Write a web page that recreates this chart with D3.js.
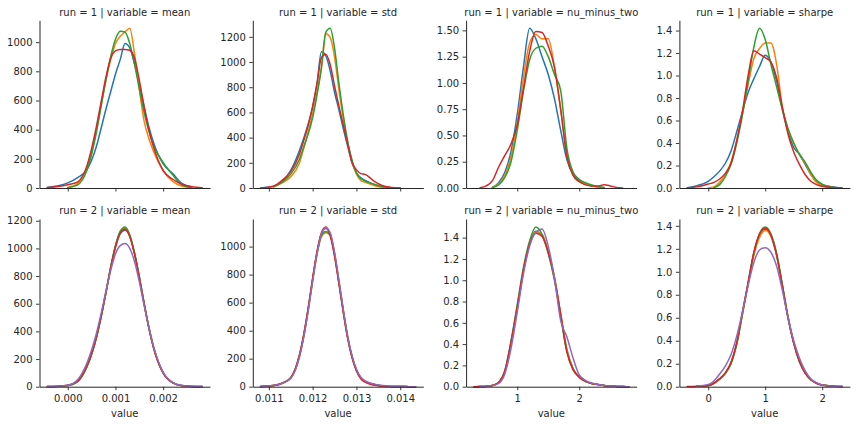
<!DOCTYPE html>
<html>
<head>
<meta charset="utf-8">
<script src="https://cdn.jsdelivr.net/npm/d3@7"></script>
<style>
  html, body { margin: 0; padding: 0; background: #ffffff; }
  text { font-family: "DejaVu Sans", sans-serif; }
</style>
</head>
<body>
<svg id="chart" width="856" height="424"></svg>
<script>
// ---------------- data ----------------
const runs = [1, 2];
const variables = ["mean", "std", "nu_minus_two", "sharpe"];
const seriesColors = ["#1f77b4", "#ff7f0e", "#2ca02c", "#d62728", "#9467bd"];

// evaluation grids (x values of the density curves) per variable
const gridMean = [-0.00043,-0.0002,0,0.0002,0.0004,0.0005,0.0006,0.0007,0.0008,0.0009,0.001,0.0011,0.0012,0.0013,0.0014,0.0015,0.0016,0.0017,0.0018,0.002,0.0022,0.0024,0.0026,0.00282];
const gridStd = [0.01081,0.0111,0.0113,0.0115,0.0117,0.0118,0.0119,0.012,0.0121,0.0122,0.0123,0.0124,0.0125,0.0126,0.0127,0.0128,0.0129,0.013,0.0131,0.0132,0.0134,0.0136,0.0138,0.014,0.0142,0.01435];
const gridNu = [0.3,0.4,0.5,0.6,0.7,0.8,0.9,1.0,1.1,1.2,1.3,1.4,1.5,1.6,1.7,1.8,1.9,2.0,2.1,2.2,2.3,2.4,2.5,2.6,2.7,2.8];
const gridSharpe = [-0.37,-0.2,0,0.1,0.2,0.3,0.4,0.5,0.6,0.7,0.8,0.9,1.0,1.1,1.2,1.3,1.4,1.5,1.6,1.7,1.8,1.9,2.0,2.2,2.35];

// run 1 densities (series order: blue, orange, green, red)
const run1Mean = [
  [3,15,35,70,125,190,285,410,540,660,780,880,990,960,850,710,560,420,310,165,100,30,8,null],
  [null,null,3,30,140,250,400,570,740,880,990,1040,1070,1095,920,680,460,340,250,120,45,12,2,null],
  [null,null,2,20,120,230,380,560,740,900,1020,1075,1070,990,850,680,520,390,290,175,90,20,2,null],
  [3,10,22,40,150,270,420,590,760,890,940,950,950,945,890,740,560,400,280,120,60,25,8,2]
];
const run1Std = [
  [1,12,50,140,300,400,510,640,830,1082,1050,930,760,620,470,330,200,120,80,60,28,8,2,0,null,null],
  [null,8,40,90,200,320,450,590,760,960,1225,1195,1040,780,550,360,210,110,60,45,20,5,1,null,null,null],
  [null,10,45,110,230,330,430,560,740,950,1235,1268,1110,830,580,370,220,120,75,55,30,10,2,null,null,null],
  [1,15,60,130,270,380,500,650,830,1035,1062,980,810,650,500,350,200,146,114,108,55,18,5,0,null,null]
];
const run1Nu = [
  [null,null,null,0.005,0.05,0.15,0.35,0.70,1.15,1.52,1.42,1.25,1.08,0.85,0.55,0.27,0.13,0.07,0.04,0.02,0.01,0.003,null,null,null,null],
  [null,null,null,0.005,0.04,0.12,0.30,0.62,1.05,1.38,1.46,1.42,1.42,1.15,0.75,0.32,0.15,0.08,0.04,0.02,0.01,0.003,null,null,null,null],
  [null,null,null,0.005,0.03,0.10,0.25,0.55,0.92,1.22,1.33,1.35,1.25,1.08,0.93,0.38,0.15,0.08,0.05,0.03,0.015,0.005,null,null,null,null],
  [null,0.002,0.02,0.07,0.20,0.31,0.42,0.60,0.95,1.30,1.49,1.48,1.35,1.15,0.75,0.30,0.12,0.06,0.03,0.02,0.02,0.03,0.02,0.005,0,null]
];
const run1Sharpe = [
  [0.002,0.02,0.06,0.10,0.15,0.22,0.33,0.50,0.68,0.85,0.97,1.08,1.18,1.12,0.95,0.70,0.50,0.36,0.30,0.21,0.12,0.06,0.03,0.008,0.001],
  [null,null,0.001,0.01,0.05,0.12,0.23,0.42,0.66,0.92,1.15,1.24,1.29,1.29,1.10,0.72,0.52,0.40,0.30,0.22,0.12,0.05,0.02,0.003,null],
  [null,null,null,0.003,0.03,0.10,0.21,0.40,0.65,0.95,1.25,1.42,1.32,1.10,0.90,0.70,0.53,0.40,0.30,0.23,0.14,0.07,0.035,0.005,null],
  [0.001,0.01,0.035,0.05,0.08,0.13,0.22,0.42,0.68,1.0,1.22,1.19,1.16,1.12,0.98,0.72,0.48,0.32,0.21,0.12,0.06,0.03,0.015,0.004,0.001]
];

// run 2 densities (series order: blue, orange, green, red, purple)
const run2Mean = [
  [1,3,8,35,142,232,352,505,678,858,1008,1105,1132,1090,965,795,608,432,285,102,30,8,2,1],
  [1,3,8,36,145,236,356,508,680,862,1015,1115,1145,1092,963,790,602,428,282,100,29,7,2,1],
  [null,3,8,35,143,234,355,507,681,866,1022,1125,1155,1098,966,792,603,427,281,99,28,7,2,1],
  [2,4,10,38,150,240,360,510,680,860,1010,1110,1138,1085,960,790,600,425,280,98,28,7,2,0],
  [1,3,10,48,170,265,385,530,690,840,960,1020,1035,1000,905,760,590,430,290,105,30,9,3,1]
];
const run2Std = [
  [1,8,24,62,222,370,555,765,958,1092,1130,1090,945,745,538,350,212,118,62,36,15,5,2,1,0.5,0],
  [1,7,23,60,215,362,548,755,945,1070,1098,1085,950,752,545,356,216,120,63,37,15,5,2,1,0.5,0],
  [1,8,25,64,226,374,560,770,955,1080,1108,1080,945,748,540,352,214,119,62,36,15,5,2,1,0.5,0],
  [1,8,25,65,230,380,566,775,966,1098,1140,1078,931,733,528,343,206,113,57,32,12,4,2,1,0.5,0],
  [1,8,24,60,215,360,545,755,950,1090,1135,1100,960,760,550,360,220,125,68,42,20,8,3,1,0.5,0]
];
const run2Nu = [
  [0,0.002,0.005,0.011,0.04,0.14,0.41,0.74,1.09,1.35,1.46,1.42,1.27,1.02,0.68,0.35,0.17,0.09,0.05,0.03,0.02,0.012,0.006,0.003,0.001,0],
  [0,0.002,0.005,0.011,0.04,0.14,0.40,0.73,1.08,1.34,1.45,1.43,1.27,1.03,0.69,0.35,0.17,0.09,0.05,0.03,0.02,0.012,0.006,0.003,0.001,0],
  [0,0.002,0.005,0.012,0.04,0.15,0.43,0.77,1.12,1.37,1.50,1.43,1.25,1.00,0.66,0.33,0.16,0.09,0.05,0.03,0.02,0.012,0.006,0.003,0.001,0],
  [0,0.002,0.005,0.012,0.04,0.15,0.42,0.75,1.10,1.34,1.44,1.41,1.26,1.02,0.68,0.33,0.16,0.09,0.05,0.03,0.02,0.012,0.006,0.003,0.001,0],
  [null,0.002,0.005,0.01,0.03,0.12,0.36,0.70,1.06,1.32,1.45,1.48,1.32,1.02,0.62,0.47,0.27,0.11,0.06,0.035,0.02,0.012,0.006,0.003,0.001,0]
];
const run2Sharpe = [
  [null,0.003,0.01,0.03,0.068,0.12,0.21,0.38,0.64,0.90,1.16,1.32,1.37,1.31,1.14,0.88,0.60,0.38,0.22,0.12,0.06,0.03,0.015,0.005,0.001],
  [null,0.003,0.01,0.03,0.066,0.118,0.205,0.37,0.63,0.89,1.14,1.30,1.36,1.31,1.15,0.88,0.61,0.39,0.23,0.12,0.06,0.03,0.015,0.005,0.001],
  [null,0.003,0.01,0.03,0.065,0.115,0.20,0.37,0.63,0.90,1.16,1.33,1.39,1.33,1.16,0.89,0.61,0.38,0.22,0.12,0.06,0.03,0.015,0.005,0.002],
  [0.001,0.003,0.01,0.03,0.07,0.12,0.21,0.38,0.65,0.91,1.17,1.33,1.38,1.32,1.15,0.88,0.60,0.38,0.22,0.12,0.06,0.03,0.015,0.005,0.001],
  [null,0.005,0.02,0.05,0.11,0.18,0.28,0.44,0.65,0.88,1.08,1.19,1.21,1.17,1.05,0.84,0.60,0.40,0.25,0.14,0.07,0.035,0.015,0.004,0.001]
];

// tick values
const xTicksMean = [0, 0.001, 0.002];
const xTicksStd = [0.011, 0.012, 0.013, 0.014];
const xTicksNu = [1, 2];
const xTicksSharpe = [0, 1, 2];
const yTicksRun1 = [
  [0,200,400,600,800,1000],
  [0,200,400,600,800,1000,1200],
  [0,0.25,0.5,0.75,1.0,1.25,1.5],
  [0,0.2,0.4,0.6,0.8,1.0,1.2,1.4]
];
const yTicksRun2 = [
  [0,200,400,600,800,1000,1200],
  [0,200,400,600,800,1000],
  [0,0.2,0.4,0.6,0.8,1.0,1.2,1.4],
  [0,0.2,0.4,0.6,0.8,1.0,1.2,1.4]
];
const xFormats = [d3.format(".3f"), d3.format(".3f"), d3.format("d"), d3.format("d")];
const yFormatsRun1 = [d3.format("d"), d3.format("d"), d3.format(".2f"), d3.format(".1f")];
const yFormatsRun2 = [d3.format("d"), d3.format("d"), d3.format(".1f"), d3.format(".1f")];

// ---------------- build table ----------------
const grids = [gridMean, gridStd, gridNu, gridSharpe];
const xTicks = [xTicksMean, xTicksStd, xTicksNu, xTicksSharpe];
const panelSeries = [
  [run1Mean, run1Std, run1Nu, run1Sharpe],
  [run2Mean, run2Std, run2Nu, run2Sharpe]
];
const yTicks = [yTicksRun1, yTicksRun2];
const yFormats = [yFormatsRun1, yFormatsRun2];

// ---------------- layout ----------------
const colLeft = [39.5, 252.8, 466.1, 679.4];
const panelW = 170.5;
const rowTop = [20.3, 219.0];
const panelH = 167.7;
const textColor = "#262626";

const svg = d3.select("#chart");
svg.append("rect").attr("width", 856).attr("height", 424).attr("fill", "#ffffff");

// shared x scales per column (from both rows)
const xScales = grids.map((grid, c) => {
  let lo = Infinity, hi = -Infinity;
  panelSeries.forEach(row => row[c].forEach(s => s.forEach((v, i) => {
    if (v !== null) { lo = Math.min(lo, grid[i]); hi = Math.max(hi, grid[i]); }
  })));
  const pad = (hi - lo) * 0.05;
  return d3.scaleLinear().domain([lo - pad, hi + pad]).range([0, panelW]);
});

runs.forEach((run, r) => {
  variables.forEach((variable, c) => {
    const g = svg.append("g").attr("transform", `translate(${colLeft[c]},${rowTop[r]})`);
    const series = panelSeries[r][c];
    const grid = grids[c];
    const ymax = d3.max(series, s => d3.max(s.filter(v => v !== null)));
    const x = xScales[c];
    const y = d3.scaleLinear().domain([0, ymax * 1.05]).range([panelH, 0]);

    // curves
    const line = d3.line()
      .defined(d => d.v !== null)
      .x(d => x(d.x))
      .y(d => y(d.v))
      .curve(d3.curveMonotoneX);
    series.forEach((s, k) => {
      const pts = s.map((v, i) => ({ x: grid[i], v: v }));
      g.append("path")
        .attr("d", line(pts))
        .attr("fill", "none")
        .attr("stroke", seriesColors[k])
        .attr("stroke-width", 1.5)
        .attr("stroke-linejoin", "round")
        .attr("stroke-linecap", "round");
    });

    // y axis
    const yAxis = d3.axisLeft(y).tickValues(yTicks[r][c]).tickFormat(yFormats[r][c])
      .tickSizeOuter(0).tickSizeInner(3.5).tickPadding(3.5);
    const ya = g.append("g").call(yAxis);
    // x axis
    const xAxis = d3.axisBottom(x).tickValues(xTicks[c])
      .tickFormat(r === 1 ? xFormats[c] : () => "")
      .tickSizeOuter(0).tickSizeInner(3.5).tickPadding(3.5);
    const xa = g.append("g").attr("transform", `translate(0,${panelH})`).call(xAxis);

    [ya, xa].forEach(a => {
      a.select(".domain").attr("stroke", textColor).attr("stroke-width", 1);
      a.selectAll(".tick line").attr("stroke", textColor).attr("stroke-width", 0.9);
      a.selectAll(".tick text").attr("fill", textColor)
        .style("font-family", "'DejaVu Sans', sans-serif").style("font-size", "10px");
    });
    xa.selectAll(".tick text").attr("y", 8.7).attr("dy", "0.71em");

    // title
    g.append("text")
      .attr("x", panelW / 2)
      .attr("y", -4.6)
      .attr("text-anchor", "middle")
      .attr("fill", textColor)
      .style("font-size", "10px")
      .text(`run = ${run} | variable = ${variable}`);

    if (r === 1) {
      g.append("text")
        .attr("x", panelW / 2)
        .attr("y", panelH + 30.7)
        .attr("text-anchor", "middle")
        .attr("fill", textColor)
        .style("font-size", "10px")
        .text("value");
    }
  });
});
</script>
</body>
</html>
